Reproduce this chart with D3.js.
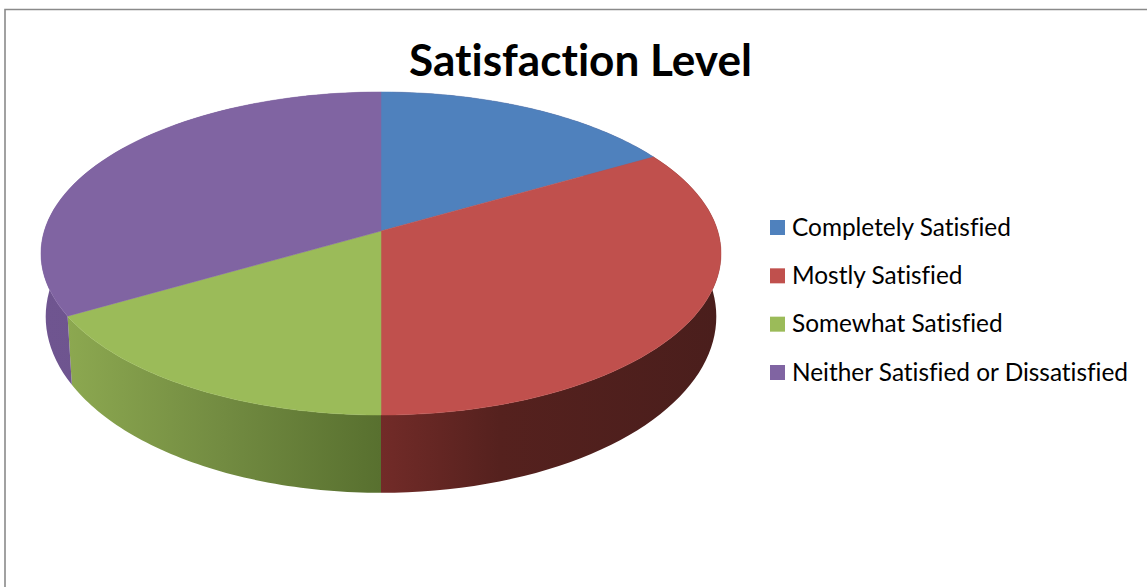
<!DOCTYPE html>
<html>
<head>
<meta charset="utf-8">
<script src="https://cdn.jsdelivr.net/npm/d3@7"></script>
<style>
  html, body { margin: 0; padding: 0; background: #fff; overflow: hidden; }
  svg { display: block; }
  text { font-family: Lato, "Noto Sans", sans-serif; fill: #000; font-variant-ligatures: none; }
</style>
</head>
<body>
<svg id="chart" width="1147" height="587"></svg>
<script>
const chartTitle = 'Satisfaction Level';
const categories = ['Completely Satisfied', 'Mostly Satisfied', 'Somewhat Satisfied', 'Neither Satisfied or Dissatisfied'];
const values = [1, 2, 1, 2];
const colors = ['#4f81bd', '#c0504d', '#9bbb59', '#8064a2'];

const svg = d3.select('#chart');
const defs = svg.append('defs');

// frame
svg.append('path')
  .attr('d', 'M5,587V9.5H1147')
  .attr('fill', 'none')
  .attr('stroke', '#8a8a8a')
  .attr('stroke-width', 1.6);

// title
svg.append('text')
  .attr('x', 580.5)
  .attr('y', 76)
  .attr('text-anchor', 'middle')
  .attr('font-weight', 700)
  .attr('font-size', 44)
  .attr('textLength', 343)
  .attr('lengthAdjust', 'spacingAndGlyphs')
  .text(chartTitle);

// perspective of the pie disc: top face and bottom face
const topFace = {cx: 381, cy: 231, a: 158.4, b: 336.7, p: 0.1393};
const bottomFace = {cx: 381, cy: 292, a: 172.7, b: 332, p: 0.14};

const project = (face, angle) => {
  const u = Math.sin(angle);
  const v = Math.cos(angle);
  const k = 1 + face.p * v;
  return [face.cx + face.b * u / k, face.cy - face.a * v / k];
};

const arcPoints = (face, start, end) => d3.range(0, 61).map(i => project(face, start + (end - start) * i / 60));

const line = d3.line();
const slices = d3.pie().sort(null)(values);

// walls, horizontal shading like the office 3d pie
const wallStops = [
  [{o: 0, c: '#7c4a6a'}, {o: 1, c: '#7c4a6a'}],
  [{o: 0, c: '#722b28'}, {o: 0.35, c: '#55211e'}, {o: 1, c: '#4a1e1c'}],
  [{o: 0, c: '#8ca850'}, {o: 0.5, c: '#728b41'}, {o: 1, c: '#58702f'}],
  [{o: 0, c: '#6f5590'}, {o: 1, c: '#6a5089'}],
];

slices.forEach((s, i) => {
  const top = arcPoints(topFace, s.startAngle, s.endAngle);
  const bottom = arcPoints(bottomFace, s.startAngle, s.endAngle);
  const all = top.concat(bottom);
  const grad = defs.append('linearGradient')
    .attr('id', 'wall' + i)
    .attr('gradientUnits', 'userSpaceOnUse')
    .attr('x1', d3.min(all, d => d[0])).attr('y1', 0)
    .attr('x2', d3.max(all, d => d[0])).attr('y2', 0);
  wallStops[i].forEach(st => grad.append('stop').attr('offset', st.o).attr('stop-color', st.c));
  svg.append('path')
    .attr('d', line(top.concat(bottom.slice().reverse())) + 'Z')
    .attr('fill', `url(#wall${i})`);
});

// top faces
slices.forEach((s, i) => {
  const pts = [[topFace.cx, topFace.cy]].concat(arcPoints(topFace, s.startAngle, s.endAngle));
  svg.append('path')
    .attr('d', line(pts) + 'Z')
    .attr('fill', colors[i])
    .attr('stroke', colors[i])
    .attr('stroke-width', 0.5);
});

// legend
const legendY = d3.scalePoint().domain(categories).range([227.5, 372.5]);
const legend = svg.append('g').selectAll('g').data(categories).join('g')
  .attr('transform', d => `translate(770,${legendY(d)})`);
legend.append('rect')
  .attr('x', 0).attr('y', -7.5)
  .attr('width', 15).attr('height', 15)
  .attr('fill', (d, i) => colors[i]);
legend.append('text')
  .attr('x', 22).attr('y', 8)
  .attr('font-size', 24.4)
  .text(d => d);
</script>
</body>
</html>
